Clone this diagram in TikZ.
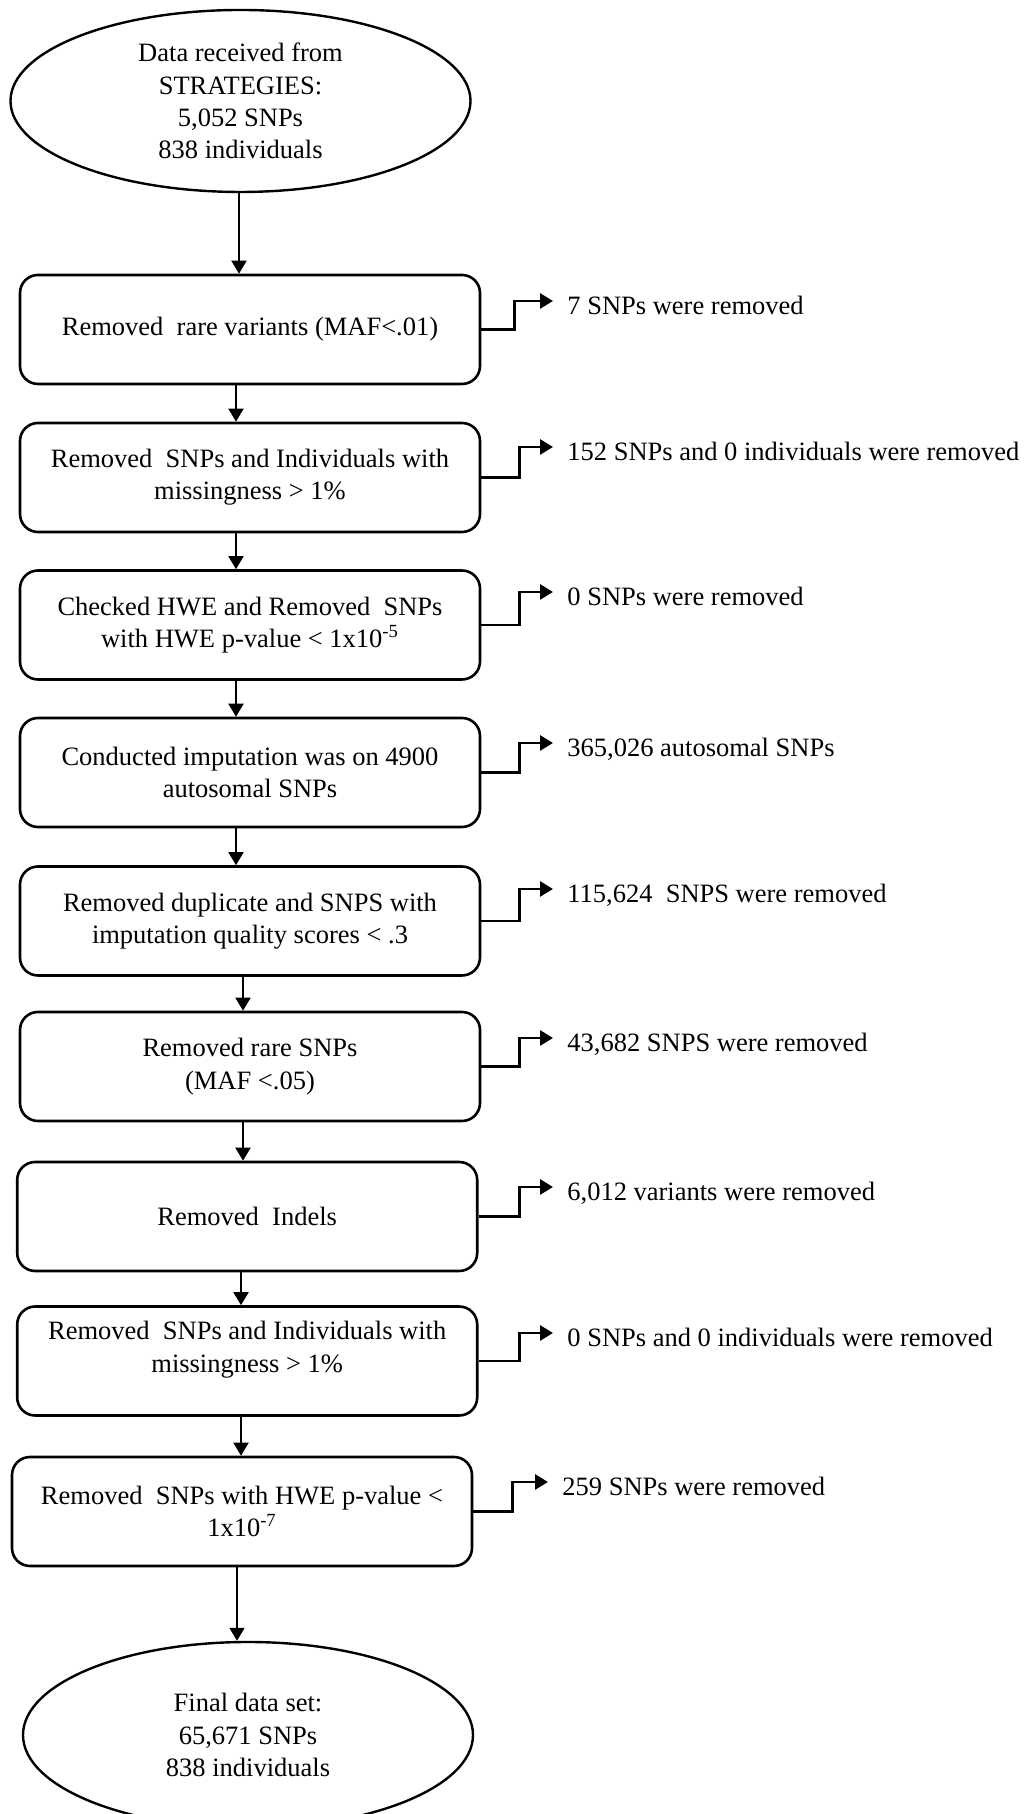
\documentclass[tikz,border=0pt]{standalone}
\usepackage{fontspec}
\setmainfont{Liberation Serif}
\usetikzlibrary{arrows.meta,shapes.geometric}

\begin{document}
\begin{tikzpicture}[>={Triangle[length=6.5bp,width=7.5bp]},line join=bevel,
  every node/.style={font=\fontsize{13.3}{16.2}\selectfont},
  terminal/.style={draw,ellipse,line width=1.2bp,inner sep=0pt,align=center},
  qcbox/.style={draw,rectangle,rounded corners=9bp,line width=1.3bp,minimum width=230bp,minimum height=54.5bp,inner sep=0pt,align=center},
  note/.style={anchor=west,inner sep=0pt,text height=14bp,text depth=0pt},
  flow/.style={black,->,line width=1bp},
  side/.style={black,->,line width=1.4bp,line join=miter,shorten >=7bp}]
\useasboundingbox (0bp,0bp) rectangle (514bp,907bp);
%% main column
\node (node_raw) at (120.25bp,856.5bp) [terminal,minimum width=230bp,minimum height=91bp] {Data received from\\STRATEGIES:\\5,052 SNPs\\838 individuals};
  \node (node_maf) at (125bp,742.25bp) [qcbox] {Removed\ \ rare variants (MAF<.01)};
  \node (node_miss1) at (125bp,668.25bp) [qcbox] {Removed\ \ SNPs and Individuals with\\missingness > 1\%};
  \node (node_hwe1) at (125bp,594.5bp) [qcbox] {Checked HWE and Removed\ \ SNPs\\with HWE p-value < 1x10\textsuperscript{-5}};
  \node (node_imp) at (125bp,520.75bp) [qcbox] {Conducted imputation was on 4900\\autosomal SNPs};
  \node (node_qual) at (125bp,446.5bp) [qcbox] {Removed duplicate and SNPS with\\imputation quality scores < .3};
  \node (node_rare) at (125bp,373.75bp) [qcbox] {Removed rare SNPs\\(MAF <.05)};
  \node (node_indel) at (123.6bp,298.75bp) [qcbox] {Removed\ \ Indels};
  \node (node_miss2) at (123.6bp,226.5bp) [qcbox] {Removed\ \ SNPs and Individuals with\\missingness > 1\%\\[-2bp]\mbox{}};
  \node (node_hwe2) at (121bp,151.25bp) [qcbox] {Removed\ \ SNPs with HWE p-value <\\1x10\textsuperscript{-7}};
  \node (node_final) at (124bp,39.5bp) [terminal,minimum width=225bp,minimum height=93bp] {Final data set:\\65,671 SNPs\\838 individuals};
%% removed counts
\node (note_maf) at (283.5bp,756.5bp) [note] {7 SNPs were removed};
  \node (note_miss1) at (283.5bp,683.5bp) [note] {152 SNPs and 0 individuals were removed};
  \node (note_hwe1) at (283.5bp,611bp) [note] {0 SNPs were removed};
  \node (note_imp) at (283.5bp,535.5bp) [note] {365,026 autosomal SNPs};
  \node (note_qual) at (283.5bp,462.5bp) [note] {115,624\ \ SNPS were removed};
  \node (note_rare) at (283.5bp,388bp) [note] {43,682 SNPS were removed};
  \node (note_indel) at (283.5bp,313.5bp) [note] {6,012 variants were removed};
  \node (note_miss2) at (283.5bp,240.5bp) [note] {0 SNPs and 0 individuals were removed};
  \node (note_hwe2) at (281bp,166bp) [note] {259 SNPs were removed};
%
\draw [flow] (node_raw.south -| 119.5bp,0) -- (node_maf.north -| 119.5bp,0);
  \draw [flow] (node_maf.south -| 118bp,0) -- (node_miss1.north -| 118bp,0);
  \draw [flow] (node_miss1.south -| 118bp,0) -- (node_hwe1.north -| 118bp,0);
  \draw [flow] (node_hwe1.south -| 118bp,0) -- (node_imp.north -| 118bp,0);
  \draw [flow] (node_imp.south -| 118bp,0) -- (node_qual.north -| 118bp,0);
  \draw [flow] (node_qual.south -| 121.5bp,0) -- (node_rare.north -| 121.5bp,0);
  \draw [flow] (node_rare.south -| 121.5bp,0) -- (node_indel.north -| 121.5bp,0);
  \draw [flow] (node_indel.south -| 120.5bp,0) -- (node_miss2.north -| 120.5bp,0);
  \draw [flow] (node_miss2.south -| 120.5bp,0) -- (node_hwe2.north -| 120.5bp,0);
  \draw [flow] (node_hwe2.south -| 118.5bp,0) -- (node_final.north -| 118.5bp,0);
%
\draw [side] (node_maf.east) -- ++(16.5bp,0) |- (note_maf.west);
  \draw [side] (node_miss1.east) -- ++(19bp,0) |- (note_miss1.west);
  \draw [side] (node_hwe1.east) -- ++(19bp,0) |- (note_hwe1.west);
  \draw [side] (node_imp.east) -- ++(19bp,0) |- (note_imp.west);
  \draw [side] (node_qual.east) -- ++(19bp,0) |- (note_qual.west);
  \draw [side] (node_rare.east) -- ++(19bp,0) |- (note_rare.west);
  \draw [side] (node_indel.east) -- ++(20.4bp,0) |- (note_indel.west);
  \draw [side] (node_miss2.east) -- ++(20.4bp,0) |- (note_miss2.west);
  \draw [side] (node_hwe2.east) -- ++(19.5bp,0) |- (note_hwe2.west);
%
\end{tikzpicture}
\end{document}
